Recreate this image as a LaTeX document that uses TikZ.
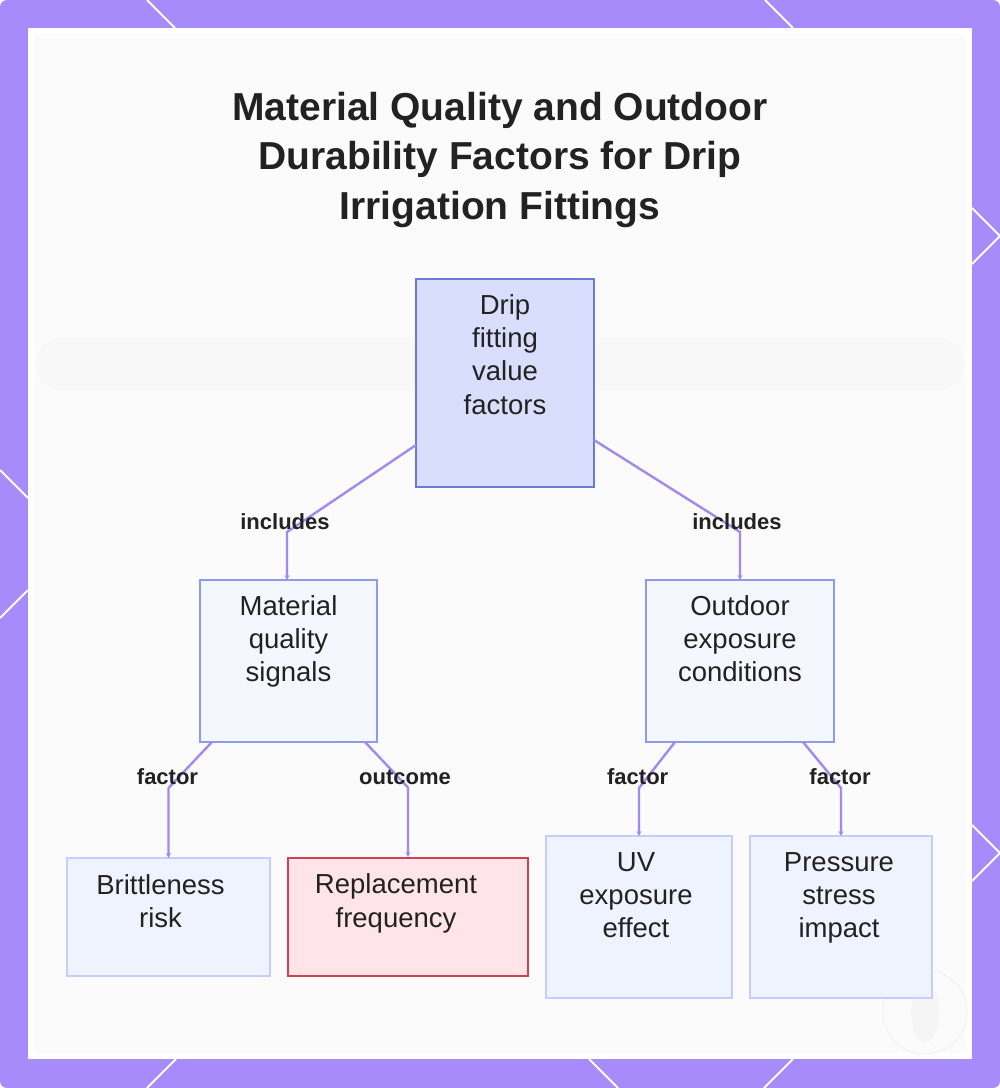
\documentclass[tikz,border=0pt]{standalone}
\usepackage{fontspec}
\setmainfont{Liberation Sans}
\usetikzlibrary{calc,arrows.meta}
\definecolor{framec}{RGB}{167,139,250}
\definecolor{edgec}{RGB}{162,138,236}
\definecolor{txtc}{RGB}{34,34,34}
\definecolor{topfill}{RGB}{216,222,252}
\definecolor{topdraw}{RGB}{104,124,214}
\definecolor{midfill}{RGB}{245,247,255}
\definecolor{middraw}{RGB}{140,156,232}
\definecolor{lowfill}{RGB}{239,243,255}
\definecolor{lowdraw}{RGB}{196,206,248}
\definecolor{redfill}{RGB}{255,229,233}
\definecolor{reddraw}{RGB}{208,66,82}
\definecolor{panelc}{RGB}{251,251,252}
\tikzset{
  boxbase/.style={rectangle, inner sep=0pt, outer sep=0pt, line width=2pt},
  topbox/.style={boxbase, fill=topfill, draw=topdraw},
  midbox/.style={boxbase, fill=midfill, draw=middraw},
  lowbox/.style={boxbase, fill=lowfill, draw=lowdraw},
  redbox/.style={boxbase, fill=redfill, draw=reddraw},
  boxtext/.style={anchor=north, inner sep=0pt, align=center, text=txtc,
    font=\fontsize{27.5}{33.3}\selectfont},
  lbl/.style={anchor=base, inner sep=0pt, text=txtc,
    font=\fontsize{22}{26}\selectfont\bfseries},
  edge/.style={draw=edgec, line width=2.4pt, line join=round,
    -{Stealth[length=5pt,width=5pt]}},
  deco/.style={draw=white, line width=2pt},
}
\begin{document}
\begin{tikzpicture}[x=1pt,y=-1pt]
\useasboundingbox (0,0) rectangle (1000,1088);
% frame
\fill[framec] (0,0) [rounded corners=7pt] rectangle (1000,1088);
\draw[deco] (147,0) -- (175,28);
\draw[deco] (765,0) -- (793,28);
\draw[deco] (972,208) -- (1000,236) -- (972,264);
\draw[deco] (972,825) -- (1000,853) -- (972,881);
\draw[deco] (176,1059) -- (147,1088);
\draw[deco] (589,1059) -- (618,1088);
\draw[deco] (793,1059) -- (764,1088);
\draw[deco] (0,470) -- (28,498);
\draw[deco] (28,590) -- (0,618);
% panel
\fill[white] (28,28) rectangle (972,1059);
\fill[panelc] (34,34) rectangle (966,1053);
\fill[gray, opacity=0.025, rounded corners=25pt] (36,338) rectangle (964,390);
% watermark
\draw[gray!10, line width=1pt] (925,1012) circle (42);
\fill[gray!8] (925,1012) ellipse (14 and 30);
% title
\node[anchor=north, inner sep=0pt, align=center, text=txtc,
  font=\fontsize{39}{49.5}\selectfont\bfseries] (title) at (500,85.4)
  {\strut Material Quality and Outdoor\\Durability Factors for Drip\\Irrigation Fittings};
% boxes
\node[topbox, minimum width=178pt, minimum height=208pt] (top) at (505,383) {};
\node[midbox, minimum width=177pt, minimum height=162pt] (mat) at (288.5,661) {};
\node[midbox, minimum width=188pt, minimum height=162pt] (out) at (740,661) {};
\node[lowbox, minimum width=203pt, minimum height=118pt] (brit) at (168.5,917) {};
\node[redbox, minimum width=240pt, minimum height=118pt] (repl) at (408,916.5) {};
\node[lowbox, minimum width=186pt, minimum height=162pt] (uv) at (639,917) {};
\node[lowbox, minimum width=182pt, minimum height=162pt] (pres) at (841,917) {};
% box texts
\node[boxtext] (topT) at ($(top.north)+(0,11.7)$) {\strut Drip\\fitting\\value\\factors};
\node[boxtext] (matT) at ($(mat.north)+(0,11.7)$) {\strut Material\\quality\\signals};
\node[boxtext] (outT) at ($(out.north)+(0,11.7)$) {\strut Outdoor\\exposure\\conditions};
\node[boxtext] (britT) at ($(brit.north)+(-8,12.7)$) {\strut Brittleness\\risk};
\node[boxtext] (replT) at ($(repl.north)+(-12,12.7)$) {\strut Replacement\\frequency};
\node[boxtext] (uvT) at ($(uv.north)+(-3,11.7)$) {\strut UV\\exposure\\effect};
\node[boxtext] (presT) at ($(pres.north)+(-2,11.7)$) {\strut Pressure\\stress\\impact};
% connectors
\draw[edge] ($(top.south west)+(0,-42)$) -- ($(mat.north)+(-1.5,-48)$) -- ($(mat.north)+(-1.5,0)$);
\draw[edge] ($(top.south east)+(0,-47)$) -- ($(out.north)+(0,-48)$) -- (out.north);
\draw[edge] ($(mat.south west)+(12,0)$) -- ($(brit.north)+(0,-70)$) -- (brit.north);
\draw[edge] ($(mat.south east)+(-12,0)$) -- ($(repl.north)+(0,-70)$) -- ($(repl.north)+(0,-0.5)$);
\draw[edge] ($(out.south west)+(29,0)$) -- ($(uv.north)+(0,-48)$) -- (uv.north);
\draw[edge] ($(out.south east)+(-31,0)$) -- ($(pres.north)+(0,-48)$) -- (pres.north);
% labels
\node[lbl] (l1) at (285,529) {includes};
\node[lbl] (l2) at (737,529) {includes};
\node[lbl] (l3) at (167.5,784) {factor};
\node[lbl] (l4) at (405,784) {outcome};
\node[lbl] (l5) at (637.7,784) {factor};
\node[lbl] (l6) at (840,784) {factor};
\end{tikzpicture}
\end{document}
